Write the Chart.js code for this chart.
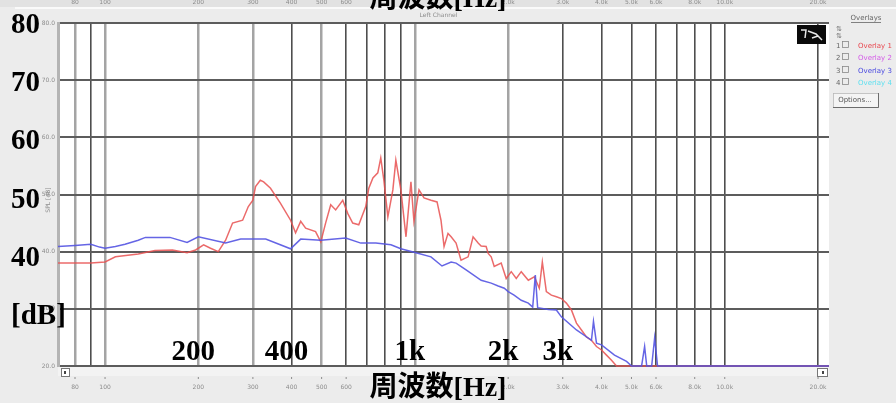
<!DOCTYPE html>
<html>
<head>
<meta charset="utf-8">
<script src="https://cdn.jsdelivr.net/npm/chart.js@4/dist/chart.umd.min.js"></script>
<style>
  html, body { margin: 0; padding: 0; background: #ececec; overflow: hidden; }
  #wrap { width: 896px; height: 403px; position: relative; }
  canvas { display: block; }
</style>
</head>
<body>
<div id="wrap"><canvas id="c" width="896" height="403"></canvas></div>
<script>
// Overlay 1 (red) – frequency [Hz] and level [dB]
const redFreq = [70.5, 90, 100, 108, 128, 145, 165, 184, 196, 208, 219, 232, 245, 258, 278, 290, 300, 306, 317, 325, 342, 368, 397, 412, 428, 444, 478, 497, 515, 535, 555, 585, 607, 630, 659, 694, 710, 732, 759, 776, 794, 818, 849, 868, 901, 936, 971, 993, 1031, 1070, 1127, 1179, 1214, 1242, 1279, 1309, 1358, 1409, 1485, 1541, 1600, 1636, 1698, 1724, 1763, 1803, 1899, 1971, 2046, 2124, 2204, 2323, 2429, 2521, 2578, 2656, 2757, 2862, 2970, 3082, 3200, 3322, 3448, 3578, 3714, 3855, 4002, 4153, 4310, 4474, 21700];
const redDb   = [38.0, 38.0, 38.2, 39.1, 39.6, 40.2, 40.3, 39.8, 40.3, 41.2, 40.6, 40.0, 42.0, 45.0, 45.5, 47.9, 49.0, 51.4, 52.5, 52.2, 51.1, 48.5, 45.5, 43.3, 45.3, 44.1, 43.5, 41.7, 45.0, 48.2, 47.3, 49.0, 46.7, 45.0, 44.7, 47.9, 51.1, 52.9, 53.8, 56.4, 52.5, 46.1, 50.8, 56.0, 50.8, 42.6, 52.2, 45.3, 50.8, 49.4, 49.0, 48.7, 45.5, 40.9, 43.2, 42.6, 41.5, 38.5, 39.1, 42.6, 41.5, 41.0, 40.9, 39.7, 39.1, 37.4, 38.0, 35.3, 36.5, 35.3, 36.5, 35.0, 35.6, 33.6, 38.2, 33.0, 32.4, 32.1, 31.8, 31.0, 29.8, 27.5, 26.3, 25.1, 24.5, 23.4, 22.8, 21.9, 21.0, 20.0, 20.0];

// Overlay 3 (blue) – frequency [Hz] and level [dB]
const blueFreq = [70.5, 80, 90, 96, 100, 108, 116, 128, 135, 162, 184, 200, 245, 274, 330, 397, 428, 497, 598, 669, 748, 837, 901, 1008, 1127, 1223, 1309, 1358, 1463, 1636, 1763, 1857, 1943, 2000, 2090, 2204, 2323, 2400, 2447, 2490, 2696, 2862, 2970, 3322, 3714, 3770, 3855, 4002, 4407, 4820, 5004, 5390, 5513, 5600, 5810, 5940, 6070, 21700];
const blueDb   = [40.9, 41.1, 41.3, 40.8, 40.6, 40.9, 41.3, 42.0, 42.5, 42.5, 41.6, 42.6, 41.5, 42.2, 42.2, 40.5, 42.2, 42.0, 42.4, 41.5, 41.5, 41.2, 40.5, 39.8, 39.1, 37.5, 38.2, 38.0, 36.8, 35.0, 34.5, 34.0, 33.6, 33.0, 32.4, 31.5, 31.0, 30.3, 35.9, 30.2, 29.9, 29.8, 28.6, 26.3, 24.5, 27.8, 24.0, 23.7, 21.9, 20.8, 20.0, 20.0, 23.4, 20.0, 20.0, 24.9, 20.0, 20.0];

// Grid and axis labelling
const gridFreqs = [80, 90, 100, 200, 300, 400, 500, 600, 700, 800, 900, 1000, 2000, 3000, 4000, 5000, 6000, 7000, 8000, 9000, 10000, 20000];
const lightGridFreqs = [80, 100, 200, 300, 500, 1000, 2000];
const axisTickFreqs = [80, 100, 200, 300, 400, 500, 600, 2000, 3000, 4000, 5000, 6000, 8000, 10000, 20000];
const axisTickText  = ['80', '100', '200', '300', '400', '500', '600', '2.0k', '3.0k', '4.0k', '5.0k', '6.0k', '8.0k', '10.0k', '20.0k'];
const dbTicks = [80, 70, 60, 50, 40, 30, 20];
const dbBigLabels = ['80', '70', '60', '50', '40', '[dB]', ''];
const dbSmallLabels = ['80.0', '70.0', '60.0', '50.0', '40.0', '30.0', '20.0'];
const freqMarkValues = [200, 400, 1000, 2000, 3000];
const freqMarkText = ['200', '400', '1k', '2k', '3k'];
const freqTitle = '周波数[Hz]';
const overlayNames = ['Overlay 1', 'Overlay 2', 'Overlay 3', 'Overlay 4'];
const overlayColors = ['#e8474f', '#d45ae8', '#4848e0', '#5ee0f0'];

const toPoints = (fs, ds) => fs.map((f, i) => ({ x: f, y: ds[i] }));

const BIG_FONT = 'bold 29px "Liberation Serif", "Noto Sans CJK JP", serif';
const TINY_FONT = '6px "DejaVu Sans", sans-serif';

const backdrop = {
  id: 'backdrop',
  beforeDraw(chart) {
    const { ctx, chartArea: a } = chart;
    ctx.save();
    ctx.fillStyle = '#ececec';
    ctx.fillRect(0, 0, chart.width, chart.height);
    ctx.fillStyle = '#e2e2e2';
    ctx.fillRect(0, 0, chart.width, 7);
    ctx.fillStyle = '#fafafa';
    ctx.fillRect(15, 7, chart.width - 15, 2);
    ctx.fillStyle = '#f3f3f3';
    ctx.fillRect(a.left, a.bottom, a.right - a.left, 10);
    ctx.fillStyle = '#ffffff';
    ctx.fillRect(a.left, a.top, a.right - a.left, a.bottom - a.top);
    ctx.restore();
  }
};

const annotations = {
  id: 'annotations',
  afterDraw(chart) {
    const { ctx, chartArea: a } = chart;
    const xs = chart.scales.x, ys = chart.scales.y;
    ctx.save();

    // small frequency labels, bottom and top strips
    ctx.font = TINY_FONT;
    ctx.fillStyle = '#8c8c8c';
    ctx.textAlign = 'center';
    ctx.textBaseline = 'middle';
    axisTickFreqs.forEach((f, i) => {
      const px = xs.getPixelForValue(f);
      ctx.fillText(axisTickText[i], px, 387);
      ctx.fillText(axisTickText[i], px, 2);
      ctx.fillRect(px - 0.5, 377, 1, 2);
    });
    ctx.fillText('Left Channel', (a.left + a.right) / 2 - 5, 15);

    // small level labels
    ctx.textAlign = 'right';
    dbTicks.forEach((v, i) => {
      ctx.fillText(dbSmallLabels[i], a.left - 3, ys.getPixelForValue(v));
    });
    ctx.save();
    ctx.translate(48, 200);
    ctx.rotate(-Math.PI / 2);
    ctx.textAlign = 'center';
    ctx.fillText('SPL [dB]', 0, 0);
    ctx.restore();

    // scroll buttons under the plot
    ctx.strokeStyle = '#777';
    ctx.lineWidth = 1;
    ctx.fillStyle = '#ffffff';
    ctx.fillRect(61.5, 368.5, 8, 8);
    ctx.strokeRect(61.5, 368.5, 8, 8);
    ctx.fillRect(817.5, 368.5, 10, 8);
    ctx.strokeRect(817.5, 368.5, 10, 8);
    ctx.fillStyle = '#444';
    ctx.fillRect(64, 371, 2, 3);
    ctx.fillRect(822, 371, 2, 3);

    // big level labels
    ctx.font = BIG_FONT;
    ctx.fillStyle = '#000000';
    ctx.textAlign = 'left';
    ctx.textBaseline = 'alphabetic';
    dbTicks.forEach((v, i) => {
      if (!dbBigLabels[i]) return;
      const py = ys.getPixelForValue(v) + 10 + (80 - v) * 0.1;
      ctx.fillText(dbBigLabels[i], 11, py);
    });

    // big frequency marks inside the plot
    ctx.textAlign = 'center';
    freqMarkValues.forEach((f, i) => {
      ctx.fillText(freqMarkText[i], xs.getPixelForValue(f) - 5, 360);
    });

    // axis title, bottom and (clipped) top
    ctx.font = 'bold 28px "Liberation Serif", "Noto Sans CJK JP", serif';
    ctx.fillText(freqTitle, 438, 396);
    ctx.fillText(freqTitle, 438, 7);

    // control icon in the plot corner
    ctx.fillStyle = '#0a0a0a';
    ctx.fillRect(797, 25, 29, 19);
    ctx.strokeStyle = '#e8e8e8';
    ctx.lineWidth = 1.5;
    ctx.beginPath();
    ctx.moveTo(801, 30); ctx.lineTo(806, 30); ctx.lineTo(805, 38);
    ctx.moveTo(808, 31); ctx.lineTo(816, 34); ctx.lineTo(822, 40);
    ctx.moveTo(812, 38); ctx.lineTo(818, 36);
    ctx.stroke();

    // overlay panel
    ctx.font = '7px "DejaVu Sans", sans-serif';
    ctx.textBaseline = 'middle';
    ctx.textAlign = 'center';
    ctx.fillStyle = '#666';
    ctx.fillText('Overlays', 866, 18);
    ctx.fillRect(851, 22, 30, 0.8);
    ctx.textAlign = 'left';
    ctx.fillStyle = '#777';
    ctx.fillText('⇅', 836, 29);
    ctx.fillText('⇅', 836, 36);
    const rowY = [46, 58, 71, 83];
    overlayNames.forEach((name, i) => {
      const y = rowY[i];
      ctx.fillStyle = '#666';
      ctx.fillText(String(i + 1), 836, y);
      ctx.strokeStyle = '#888';
      ctx.lineWidth = 0.8;
      ctx.strokeRect(842.5, y - 4.5, 6, 6);
      ctx.fillStyle = overlayColors[i];
      ctx.fillText(name, 858, y);
    });
    // Options button
    ctx.fillStyle = '#f4f4f4';
    ctx.fillRect(833, 93, 45, 14);
    ctx.strokeStyle = '#b8b8b8';
    ctx.strokeRect(833.5, 93.5, 45, 14);
    ctx.strokeStyle = '#555';
    ctx.beginPath();
    ctx.moveTo(878.5, 93); ctx.lineTo(878.5, 107.5); ctx.lineTo(833, 107.5);
    ctx.stroke();
    ctx.fillStyle = '#555';
    ctx.textAlign = 'center';
    ctx.fillText('Options...', 855, 100.5);

    ctx.restore();
  }
};

new Chart(document.getElementById('c'), {
  type: 'line',
  data: {
    datasets: [
      {
        label: overlayNames[0],
        data: toPoints(redFreq, redDb),
        borderColor: 'rgba(232, 80, 80, 0.85)',
        borderWidth: 1.5,
        pointRadius: 0,
        tension: 0,
        fill: false,
        clip: 3,
        order: 2
      },
      {
        label: overlayNames[2],
        data: toPoints(blueFreq, blueDb),
        borderColor: 'rgba(84, 84, 226, 0.9)',
        borderWidth: 1.5,
        pointRadius: 0,
        tension: 0,
        fill: false,
        clip: 3,
        order: 1
      }
    ]
  },
  options: {
    responsive: false,
    animation: false,
    devicePixelRatio: 1,
    layout: { padding: { left: 58, right: 67, top: 23, bottom: 37 } },
    plugins: { legend: { display: false }, tooltip: { enabled: false } },
    scales: {
      x: {
        type: 'logarithmic',
        min: 70.5,
        max: 21700,
        ticks: { display: false },
        afterBuildTicks: (s) => { s.ticks = gridFreqs.map(v => ({ value: v })); },
        grid: {
          drawTicks: false,
          color: (c) => lightGridFreqs.includes(c.tick && c.tick.value) ? '#a4a4a4' : '#4e4e4e',
          lineWidth: (c) => lightGridFreqs.includes(c.tick && c.tick.value) ? 2.5 : 1.6
        },
        border: { display: false }
      },
      y: {
        min: 20,
        max: 80,
        ticks: { display: false },
        afterBuildTicks: (s) => { s.ticks = dbTicks.map(v => ({ value: v })); },
        grid: { drawTicks: false, color: '#5c5c5c', lineWidth: 2 },
        border: { display: true, color: '#b4b4b4', width: 3 }
      }
    }
  },
  plugins: [backdrop, annotations]
});
</script>
</body>
</html>
